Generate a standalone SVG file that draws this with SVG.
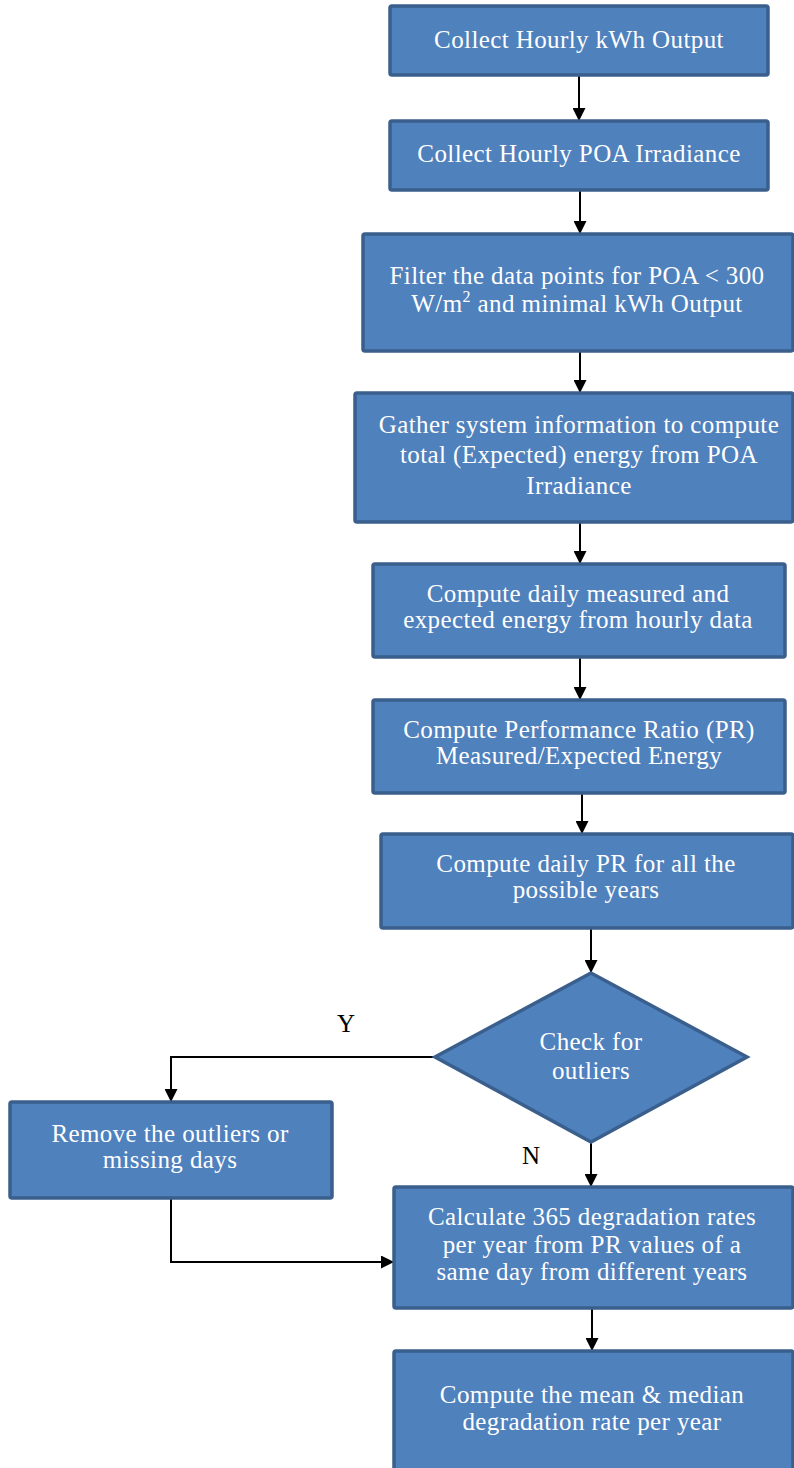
<svg xmlns="http://www.w3.org/2000/svg" width="794" height="1468" viewBox="0 0 794 1468">
  <style>
    .box { fill: #4f81bd; stroke: #3a5f8c; stroke-width: 3.5; }
    .lbl { font-family: "Liberation Serif", "Times New Roman", serif; font-size: 25px; fill: #ffffff; text-anchor: middle; letter-spacing: 0.4px; }
    .yn { font-family: "Liberation Serif", "Times New Roman", serif; font-size: 25px; fill: #000000; text-anchor: middle; }
    .wire { fill: none; stroke: #000000; stroke-width: 2; }
  </style>
  <defs>
    <marker id="arrow" viewBox="0 0 10 10" refX="10" refY="5" markerUnits="userSpaceOnUse" markerWidth="13" markerHeight="13" orient="auto">
      <path d="M0,0 L10,5 L0,10 z" fill="#000000"/>
    </marker>
  </defs>
  <rect width="794" height="1468" fill="#ffffff"/>

  <!-- connectors -->
  <g id="connectors">
    <line class="wire" x1="579" y1="76" x2="579" y2="121" marker-end="url(#arrow)"/>
    <line class="wire" x1="580" y1="191" x2="580" y2="234" marker-end="url(#arrow)"/>
    <line class="wire" x1="580" y1="352" x2="580" y2="393" marker-end="url(#arrow)"/>
    <line class="wire" x1="580" y1="523" x2="580" y2="564" marker-end="url(#arrow)"/>
    <line class="wire" x1="580" y1="658" x2="580" y2="700" marker-end="url(#arrow)"/>
    <line class="wire" x1="582" y1="794" x2="582" y2="834" marker-end="url(#arrow)"/>
    <line class="wire" x1="591" y1="929" x2="591" y2="973" marker-end="url(#arrow)"/>
    <!-- Y branch -->
    <polyline class="wire" points="435,1057 171,1057 171,1102" marker-end="url(#arrow)"/>
    <!-- N branch -->
    <line class="wire" x1="591" y1="1142" x2="591" y2="1187" marker-end="url(#arrow)"/>
    <!-- return from removal -->
    <polyline class="wire" points="171,1199 171,1262 394,1262" marker-end="url(#arrow)"/>
    <line class="wire" x1="592" y1="1309" x2="592" y2="1351" marker-end="url(#arrow)"/>
    <text class="yn" x="346" y="1032">Y</text>
    <text class="yn" x="531" y="1164">N</text>
  </g>

  <g id="collect-kwh">
    <rect class="box" x="390" y="6" width="378" height="69" rx="2"/>
    <text class="lbl" x="579" y="48">Collect Hourly kWh Output</text>
  </g>

  <g id="collect-poa">
    <rect class="box" x="390" y="121" width="378" height="69" rx="2"/>
    <text class="lbl" x="579" y="162">Collect Hourly POA Irradiance</text>
  </g>

  <g id="filter">
    <rect class="box" x="363" y="234" width="430" height="117" rx="2"/>
    <text class="lbl" x="577" y="284">Filter the data points for POA &lt; 300</text>
    <text class="lbl" x="577" y="312">W/m<tspan font-size="16" dy="-10">2</tspan><tspan dy="10"> and minimal kWh Output</tspan></text>
  </g>

  <g id="gather">
    <rect class="box" x="355" y="393" width="438" height="129" rx="2"/>
    <text class="lbl" x="579" y="433">Gather system information to compute</text>
    <text class="lbl" x="579" y="463">total (Expected) energy from POA</text>
    <text class="lbl" x="579" y="494">Irradiance</text>
  </g>

  <g id="daily-energy">
    <rect class="box" x="373" y="564" width="412" height="93" rx="2"/>
    <text class="lbl" x="578" y="602">Compute daily measured and</text>
    <text class="lbl" x="578" y="628">expected energy from hourly data</text>
  </g>

  <g id="performance-ratio">
    <rect class="box" x="373" y="700" width="412" height="93" rx="2"/>
    <text class="lbl" x="579" y="738">Compute Performance Ratio (PR)</text>
    <text class="lbl" x="579" y="764">Measured/Expected Energy</text>
  </g>

  <g id="daily-pr">
    <rect class="box" x="381" y="834" width="412" height="94" rx="2"/>
    <text class="lbl" x="586" y="872">Compute daily PR for all the</text>
    <text class="lbl" x="586" y="898">possible years</text>
  </g>

  <g id="check-outliers">
    <polygon class="box" points="591,973 747,1057 591,1142 435,1057"/>
    <text class="lbl" x="591" y="1050">Check for</text>
    <text class="lbl" x="591" y="1079">outliers</text>
  </g>

  <g id="remove-outliers">
    <rect class="box" x="10" y="1102" width="322" height="96" rx="2"/>
    <text class="lbl" x="170" y="1142">Remove the outliers or</text>
    <text class="lbl" x="170" y="1168">missing days</text>
  </g>

  <g id="degradation-rates">
    <rect class="box" x="394" y="1187" width="399" height="121" rx="2"/>
    <text class="lbl" x="592" y="1225">Calculate 365 degradation rates</text>
    <text class="lbl" x="592" y="1253">per year from PR values of a</text>
    <text class="lbl" x="592" y="1280">same day from different years</text>
  </g>

  <g id="mean-median">
    <rect class="box" x="394" y="1351" width="399" height="130" rx="2"/>
    <text class="lbl" x="592" y="1403">Compute the mean &amp; median</text>
    <text class="lbl" x="592" y="1430">degradation rate per year</text>
  </g>
</svg>
